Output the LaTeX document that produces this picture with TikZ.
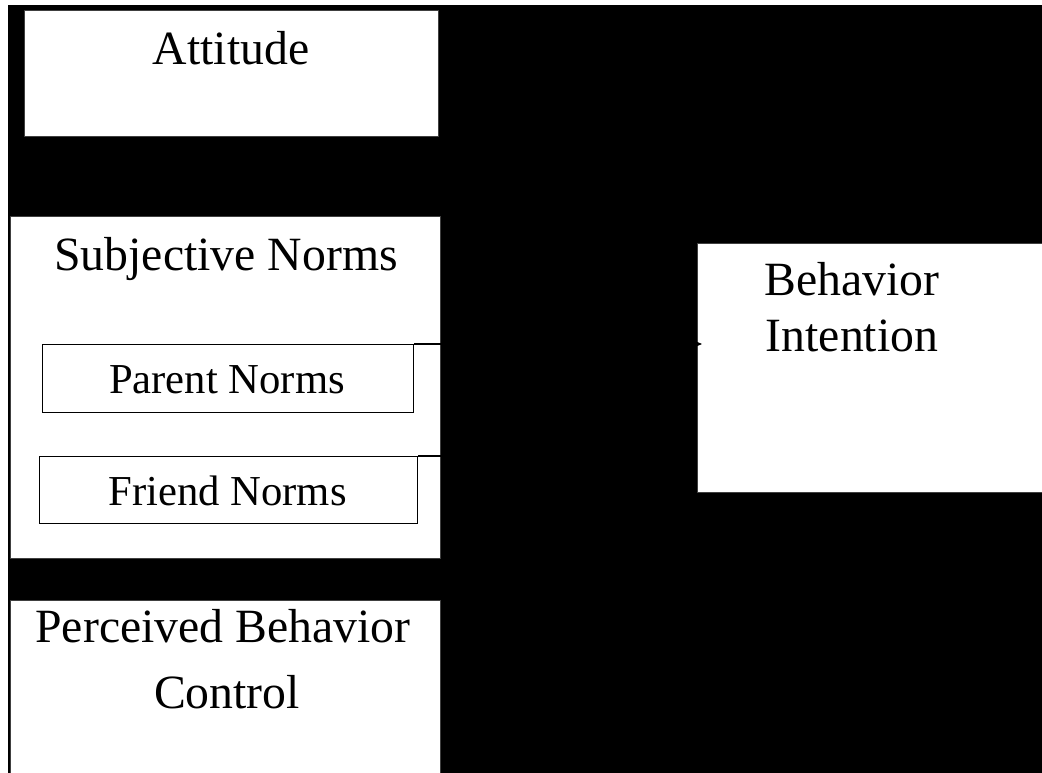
\documentclass[tikz,border=0pt]{standalone}
\usepackage{fontspec}
\setmainfont{Liberation Serif}
\usetikzlibrary{arrows.meta,calc}

\begin{document}
\begin{tikzpicture}[x=0.75pt,y=-0.75pt,
  box/.style={draw=black!75, line width=0.8pt, fill=white, inner sep=0pt, anchor=north west},
  bigtext/.style={anchor=base, inner sep=0pt, font=\fontsize{35.8}{42}\selectfont},
  smalltext/.style={anchor=base, inner sep=0pt, font=\fontsize{32}{38}\selectfont},
  conn/.style={draw=black, line width=1pt}]

% page and dark backdrop
\useasboundingbox (0,0) rectangle (1042,773);
\fill[white] (0,0) rectangle (1042,773);
\fill[black] (8,5) rectangle (1042,773);

% left column
\node[box, minimum width=310.5pt, minimum height=94.5pt] (att) at (24,10) {};
\node[bigtext] (attlbl) at (231,65) {Attitude};

\node[box, minimum width=322.5pt, minimum height=256.5pt] (sn) at (10,216) {};
\node[bigtext] (snlbl) at (226,271) {Subjective Norms};

\node[box, draw=black, minimum width=278.25pt, minimum height=51pt] (pn) at (42,344) {};
\node[smalltext] (pnlbl) at (227,393) {Parent Norms};

\node[box, draw=black, minimum width=283.5pt, minimum height=50.25pt] (fn) at (39,456) {};
\node[smalltext] (fnlbl) at (227.5,505) {Friend Norms};

\node[box, minimum width=322.5pt, minimum height=135pt] (pbc) at (10,600) {};
\node[bigtext] (pbclbl1) at (223,642) {Perceived Behavior};
\node[bigtext] (pbclbl2) at (227,708) {Control};

% outcome
\node[box, minimum width=264.75pt, minimum height=186.75pt] (bi) at (697,243) {};
\node[bigtext] (bilbl1) at (852,296) {Behavior};
\node[bigtext] (bilbl2) at (852,352) {Intention};

% connectors
\coordinate (fnend) at (570,456);
\draw[conn, -{Stealth[length=7pt,width=6pt]}] (pn.north east) -- ($(pn.north east -| bi.west)+(5,0)$);
\draw[conn] (fn.north east) -- (fnend) -- (fnend |- pn.north east);
\end{tikzpicture}
\end{document}
